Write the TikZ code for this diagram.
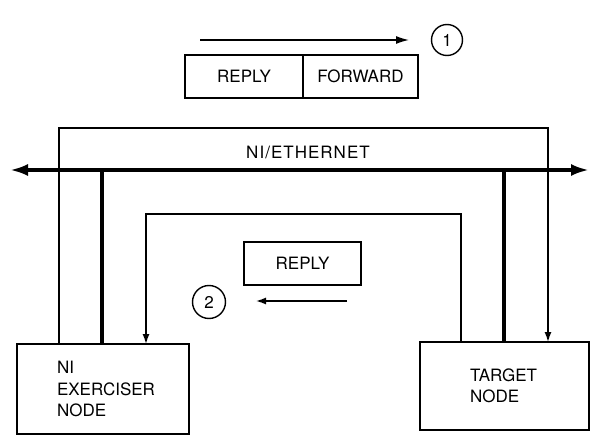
\documentclass[tikz,border=0pt]{standalone}
\usepackage{fontspec}
\setsansfont{TeX Gyre Heros}
\usetikzlibrary{arrows.meta,positioning}
\begin{document}
\begin{tikzpicture}[x=1pt, y=-1pt, font=\sffamily\fontsize{17}{21.5}\selectfont, >={Latex[length=10pt,width=7pt]},
    box/.style={draw, line width=1.9pt, outer sep=0pt, inner sep=0pt},
    wire/.style={line width=1.4pt},
    bus/.style={line width=3.4pt}]
  \useasboundingbox (0,0) rectangle (590,436);
  % packet and direction markers
  \node[box, minimum width=118, minimum height=43] (pktrep) at (244,76.5) {REPLY};
  \node[box, minimum width=115, minimum height=43, right=0pt of pktrep] (pktfwd) {FORWARD};
  \node[draw, circle, line width=1.4pt, minimum size=31] (one) at (447,40) {1};
  \coordinate (fwdA) at (200,40);
  \coordinate (fwdB) at (409,40);
  \draw[wire, -{Latex[length=13pt,width=8pt]}] (fwdA) -- (fwdB);
  \node[box, minimum width=117, minimum height=43] (rep) at (302.5,263.5) {REPLY};
  \node[draw, circle, line width=1.4pt, minimum size=33] (two) at (209,302) {2};
  \coordinate (repA) at (347,301);
  \coordinate (repB) at (256,301);
  \draw[wire, ->] (repA) -- (repB);
  % end nodes
  \node[box, minimum height=90, inner xsep=40pt, text width=92pt, align=left] (exer) at (103,389) {NI\\EXERCISER\\NODE};
  \node[box, minimum height=88, inner xsep=50pt, text width=69pt, align=left] (target) at (504.5,386) {TARGET\\NODE};
  % ethernet bus
  \coordinate (ethL) at (10,170);
  \coordinate (ethR) at (589,170);
  \draw[bus, {Latex[length=18pt,width=12pt]}-{Latex[length=18pt,width=12pt]}] (ethL) -- (ethR);
  \node (eth) at (308,152) {\addfontfeature{LetterSpace=6}NI/ETHERNET};
  \coordinate (tapA) at (102,170);
  \coordinate (tapB) at (504,170);
  \draw[bus] (tapA) -- (tapA |- exer.north);
  \draw[bus] (tapB) -- (tapB |- target.north);
  % forward and reply paths
  \coordinate (fwdL) at (59,128);
  \coordinate (fwdR) at (548,128);
  \draw[wire, ->] (fwdL |- exer.north) -- (fwdL) -- (fwdR) -- (fwdR |- target.north);
  \coordinate (repL) at (146,214);
  \coordinate (repR) at (461,214);
  \draw[wire, ->] (repR |- target.north) -- (repR) -- (repL) -- (repL |- exer.north);
\end{tikzpicture}
\end{document}
